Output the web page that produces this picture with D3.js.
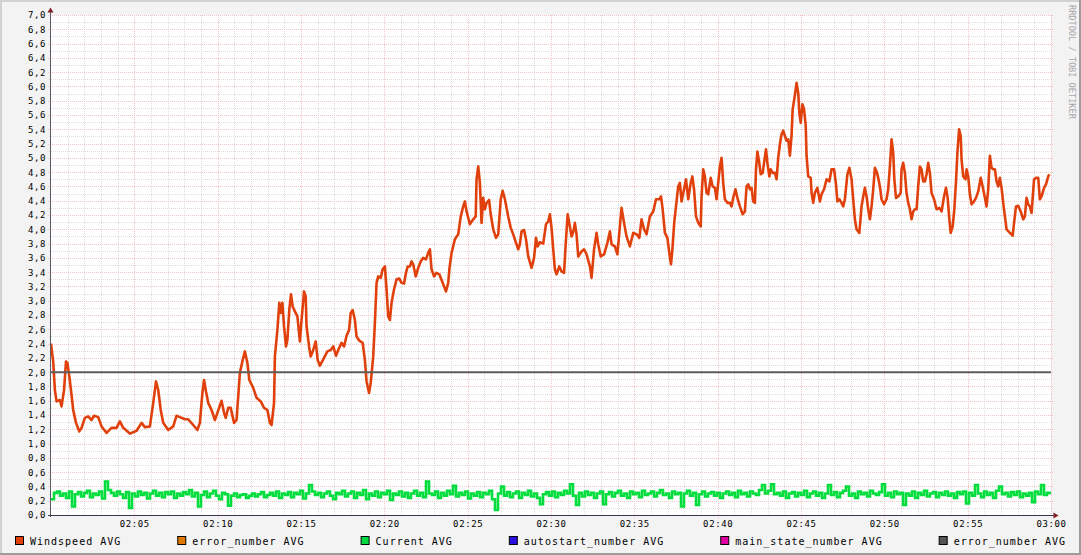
<!DOCTYPE html>
<html><head><meta charset="utf-8">
<script src="https://cdn.jsdelivr.net/npm/d3@7"></script>
<style>html,body{margin:0;padding:0;background:#f3f3f3;}svg{display:block;}</style>
</head><body><svg id="c" width="1081" height="555"></svg>
<script>
// ---------------- DATA ----------------
// Windspeed AVG: [minutes after 02:00, value]
const windspeedAvg = [
[0,2.40],[0.14,2.14],[0.24,1.75],[0.34,1.59],[0.54,1.61],[0.64,1.52],[0.78,1.75],[0.90,2.15],[0.98,2.13],[1.10,1.94],
[1.24,1.68],[1.34,1.47],[1.50,1.29],[1.70,1.17],[1.84,1.22],[2.04,1.36],[2.24,1.38],[2.44,1.33],[2.58,1.39],[2.84,1.37],
[3.04,1.24],[3.34,1.15],[3.64,1.22],[3.94,1.22],[4.14,1.31],[4.34,1.22],[4.74,1.14],[5.14,1.18],[5.44,1.29],[5.64,1.23],
[5.94,1.24],[6.14,1.57],[6.30,1.87],[6.44,1.75],[6.58,1.47],[6.74,1.29],[7.04,1.19],[7.34,1.24],[7.54,1.39],[7.74,1.37],
[8.04,1.34],[8.24,1.34],[8.54,1.26],[8.78,1.19],[8.94,1.29],[9.08,1.71],[9.18,1.89],[9.30,1.73],[9.44,1.57],[9.64,1.47],
[9.84,1.33],[9.98,1.43],[10.24,1.60],[10.38,1.43],[10.48,1.36],[10.64,1.50],[10.78,1.50],[10.98,1.29],[11.14,1.33],[11.34,1.99],
[11.50,2.17],[11.64,2.29],[11.78,2.13],[11.90,1.89],[12.14,1.78],[12.34,1.64],[12.58,1.59],[12.78,1.50],[12.98,1.47],[13.14,1.29],
[13.24,1.26],[13.38,1.57],[13.44,2.22],[13.58,2.59],[13.70,2.97],[13.78,2.83],[13.88,2.97],[13.98,2.64],[14.10,2.36],[14.18,2.45],
[14.30,2.88],[14.40,3.09],[14.50,2.92],[14.64,2.85],[14.78,2.78],[14.94,2.43],[15.04,2.73],[15.18,3.13],[15.28,3.06],[15.34,2.64],
[15.48,2.36],[15.58,2.22],[15.74,2.31],[15.88,2.43],[16.00,2.17],[16.14,2.09],[16.34,2.18],[16.58,2.29],[16.78,2.31],[16.94,2.36],
[17.10,2.23],[17.24,2.31],[17.44,2.41],[17.58,2.36],[17.74,2.51],[17.88,2.59],[17.98,2.83],[18.10,2.87],[18.24,2.73],[18.34,2.50],
[18.50,2.44],[18.70,2.41],[18.84,2.17],[18.94,1.87],[19.08,1.71],[19.18,1.85],[19.34,2.22],[19.44,2.69],[19.54,3.25],[19.64,3.34],
[19.78,3.32],[19.90,3.44],[20.04,3.48],[20.14,3.16],[20.24,2.78],[20.34,2.73],[20.44,2.97],[20.58,3.16],[20.74,3.30],[20.90,3.31],
[21.04,3.25],[21.18,3.24],[21.30,3.39],[21.40,3.48],[21.54,3.48],[21.64,3.55],[21.74,3.51],[21.88,3.34],[22.04,3.46],[22.18,3.55],
[22.34,3.60],[22.50,3.58],[22.64,3.67],[22.74,3.72],[22.84,3.44],[22.98,3.34],[23.14,3.39],[23.30,3.37],[23.54,3.23],[23.70,3.13],
[23.84,3.25],[23.90,3.44],[24.04,3.67],[24.24,3.86],[24.44,3.93],[24.58,4.18],[24.74,4.32],[24.84,4.39],[24.94,4.25],[25.14,4.07],
[25.34,4.14],[25.48,4.18],[25.54,4.70],[25.64,4.88],[25.74,4.65],[25.84,4.09],[25.94,4.44],[26.04,4.28],[26.14,4.37],[26.28,4.41],
[26.38,4.21],[26.54,4.00],[26.70,3.88],[26.84,3.93],[26.98,4.42],[27.10,4.54],[27.24,4.42],[27.44,4.18],[27.58,4.02],[27.74,3.93],
[27.90,3.81],[28.04,3.72],[28.14,3.79],[28.24,3.97],[28.38,3.99],[28.50,3.86],[28.64,3.62],[28.84,3.46],[28.98,3.60],[29.10,3.88],
[29.20,3.76],[29.34,3.82],[29.54,3.80],[29.70,4.07],[29.84,4.11],[29.94,4.21],[30.04,4.02],[30.14,3.72],[30.24,3.44],[30.34,3.37],
[30.50,3.48],[30.64,3.41],[30.78,3.39],[30.90,3.86],[31.00,4.21],[31.14,4.04],[31.24,3.90],[31.34,3.96],[31.44,4.09],[31.54,3.93],
[31.64,3.62],[31.84,3.69],[31.98,3.72],[32.14,3.65],[32.34,3.48],[32.44,3.32],[32.58,3.72],[32.74,3.95],[32.84,3.79],[32.98,3.62],
[33.18,3.65],[33.38,3.81],[33.54,3.97],[33.64,3.79],[33.84,3.76],[33.98,3.65],[34.14,4.04],[34.24,4.30],[34.38,4.09],[34.54,3.90],
[34.74,3.76],[34.94,3.95],[35.14,3.93],[35.30,3.88],[35.44,4.14],[35.58,4.00],[35.74,3.93],[35.94,4.18],[36.14,4.25],[36.30,4.42],
[36.50,4.42],[36.60,4.46],[36.70,4.28],[36.84,3.95],[36.98,3.88],[37.10,3.67],[37.20,3.51],[37.28,3.72],[37.40,4.11],[37.50,4.32],
[37.64,4.60],[37.74,4.65],[37.84,4.39],[37.98,4.56],[38.10,4.70],[38.24,4.42],[38.38,4.65],[38.48,4.74],[38.58,4.56],[38.70,4.18],
[38.84,4.09],[38.98,4.04],[39.04,4.46],[39.14,4.84],[39.24,4.74],[39.34,4.51],[39.44,4.49],[39.58,4.72],[39.70,4.60],[39.84,4.58],
[39.94,4.42],[40.04,4.65],[40.14,4.88],[40.24,5.00],[40.34,4.65],[40.44,4.42],[40.58,4.37],[40.74,4.37],[40.84,4.32],[40.94,4.44],
[41.06,4.56],[41.18,4.44],[41.34,4.32],[41.50,4.21],[41.64,4.25],[41.74,4.60],[41.84,4.63],[41.94,4.56],[42.04,4.58],[42.14,4.39],
[42.24,4.37],[42.30,4.84],[42.38,5.09],[42.48,4.95],[42.58,4.77],[42.70,4.79],[42.78,4.93],[42.90,5.12],[42.98,4.93],[43.10,4.74],
[43.18,4.84],[43.30,4.79],[43.44,4.79],[43.54,4.70],[43.64,5.00],[43.74,5.19],[43.84,5.33],[43.94,5.38],[44.04,5.31],[44.14,5.24],
[44.24,5.26],[44.34,5.03],[44.44,5.31],[44.50,5.68],[44.58,5.80],[44.68,5.96],[44.74,6.05],[44.84,5.91],[44.90,5.63],[44.98,5.49],
[45.08,5.75],[45.18,5.68],[45.28,5.45],[45.34,5.03],[45.44,4.74],[45.58,4.72],[45.64,4.51],[45.74,4.37],[45.84,4.51],[45.98,4.58],
[46.14,4.39],[46.24,4.49],[46.38,4.56],[46.54,4.70],[46.70,4.67],[46.84,4.84],[46.98,4.84],[47.10,4.63],[47.18,4.39],[47.30,4.42],
[47.44,4.37],[47.54,4.32],[47.64,4.42],[47.78,4.77],[47.90,4.86],[48.04,4.70],[48.14,4.42],[48.24,4.14],[48.34,4.00],[48.50,3.95],
[48.64,4.32],[48.74,4.46],[48.84,4.58],[48.94,4.46],[49.04,4.28],[49.14,4.14],[49.24,4.32],[49.34,4.56],[49.44,4.86],[49.54,4.81],
[49.64,4.72],[49.74,4.60],[49.84,4.42],[49.98,4.35],[50.14,4.42],[50.24,4.56],[50.34,4.88],[50.44,5.26],[50.54,5.07],[50.60,4.70],
[50.70,4.44],[50.84,4.46],[50.98,4.51],[51.04,4.84],[51.14,4.93],[51.24,4.79],[51.34,4.51],[51.44,4.37],[51.54,4.28],[51.64,4.14],
[51.74,4.25],[51.84,4.28],[51.94,4.28],[52.04,4.60],[52.14,4.88],[52.24,4.84],[52.34,4.67],[52.44,4.67],[52.54,4.77],[52.64,4.93],
[52.74,4.79],[52.84,4.51],[52.98,4.42],[53.14,4.28],[53.30,4.30],[53.44,4.25],[53.58,4.46],[53.70,4.58],[53.80,4.44],[53.90,4.14],
[53.98,3.95],[54.10,4.04],[54.20,4.28],[54.30,4.67],[54.38,5.07],[54.48,5.40],[54.58,5.31],[54.64,4.98],[54.74,4.74],[54.86,4.70],
[54.94,4.84],[55.04,4.74],[55.14,4.49],[55.24,4.35],[55.38,4.39],[55.50,4.44],[55.64,4.53],[55.78,4.72],[55.90,4.60],[56.04,4.44],
[56.14,4.32],[56.24,4.56],[56.34,5.03],[56.44,4.86],[56.54,4.84],[56.64,4.84],[56.74,4.67],[56.84,4.60],[56.94,4.72],[57.04,4.58],
[57.14,4.37],[57.24,4.18],[57.34,4.00],[57.54,3.95],[57.70,3.91],[57.78,4.09],[57.90,4.32],[58.04,4.33],[58.18,4.25],[58.34,4.14],
[58.44,4.18],[58.54,4.44],[58.64,4.35],[58.74,4.32],[58.84,4.23],[58.98,4.70],[59.10,4.72],[59.24,4.72],[59.34,4.42],[59.44,4.46],
[59.58,4.58],[59.70,4.63],[59.84,4.74],[59.90,4.77]
];

// Current AVG: one value per 10.8 s step, starting 02:00
const currentStepSeconds = 10.8;
const currentAvg = [
0.22,0.31,0.33,0.27,0.30,0.24,0.33,0.12,0.29,0.32,0.26,0.31,0.34,0.25,0.30,0.28,0.33,0.23,0.47,0.35,
0.31,0.27,0.33,0.29,0.24,0.32,0.10,0.30,0.26,0.33,0.28,0.31,0.23,0.30,0.34,0.27,0.31,0.25,0.32,0.29,
0.33,0.24,0.30,0.27,0.32,0.29,0.35,0.26,0.31,0.12,0.28,0.33,0.25,0.30,0.34,0.27,0.22,0.31,0.29,0.13,
0.27,0.30,0.25,0.28,0.29,0.24,0.27,0.30,0.26,0.29,0.32,0.25,0.28,0.31,0.27,0.33,0.24,0.30,0.28,0.32,
0.25,0.31,0.29,0.34,0.23,0.30,0.42,0.33,0.28,0.31,0.25,0.30,0.33,0.27,0.22,0.31,0.29,0.34,0.26,0.30,
0.33,0.24,0.31,0.28,0.35,0.22,0.30,0.27,0.33,0.25,0.31,0.29,0.34,0.21,0.30,0.28,0.33,0.26,0.31,0.24,
0.30,0.34,0.27,0.31,0.25,0.47,0.30,0.28,0.33,0.24,0.31,0.27,0.34,0.29,0.41,0.26,0.31,0.28,0.33,0.23,
0.30,0.27,0.32,0.25,0.31,0.29,0.34,0.22,0.07,0.30,0.40,0.27,0.32,0.25,0.30,0.33,0.24,0.31,0.28,0.34,
0.26,0.30,0.24,0.15,0.29,0.32,0.27,0.33,0.25,0.31,0.28,0.34,0.30,0.43,0.27,0.14,0.31,0.26,0.33,0.28,
0.31,0.24,0.30,0.33,0.15,0.29,0.32,0.26,0.31,0.34,0.27,0.30,0.24,0.33,0.29,0.31,0.25,0.34,0.28,0.30,
0.33,0.26,0.31,0.35,0.28,0.30,0.24,0.33,0.29,0.31,0.12,0.30,0.34,0.27,0.31,0.14,0.29,0.33,0.26,0.30,
0.32,0.27,0.31,0.24,0.30,0.33,0.28,0.31,0.25,0.34,0.29,0.31,0.26,0.33,0.30,0.28,0.35,0.42,0.30,0.34,
0.43,0.29,0.31,0.27,0.33,0.24,0.30,0.32,0.26,0.31,0.28,0.34,0.25,0.30,0.33,0.27,0.31,0.24,0.30,0.42,
0.28,0.32,0.25,0.31,0.34,0.40,0.27,0.30,0.24,0.33,0.29,0.31,0.26,0.34,0.30,0.28,0.32,0.43,0.27,0.31,
0.25,0.33,0.29,0.31,0.14,0.30,0.27,0.33,0.24,0.31,0.28,0.34,0.26,0.30,0.32,0.25,0.31,0.28,0.33,0.27,
0.30,0.24,0.32,0.29,0.33,0.16,0.31,0.27,0.42,0.30,0.25,0.33,0.28,0.31,0.24,0.34,0.40,0.29,0.31,0.26,
0.32,0.28,0.33,0.25,0.30,0.27,0.31,0.18,0.33,0.29,0.42,0.28,0.31
];

const hruleValue = 2.0;

const xTickLabels = ["02:05","02:10","02:15","02:20","02:25","02:30","02:35","02:40","02:45","02:50","02:55","03:00"];
const yTickLabels = ["0,0","0,2","0,4","0,6","0,8","1,0","1,2","1,4","1,6","1,8","2,0","2,2","2,4","2,6","2,8","3,0",
  "3,2","3,4","3,6","3,8","4,0","4,2","4,4","4,6","4,8","5,0","5,2","5,4","5,6","5,8","6,0","6,2","6,4","6,6","6,8","7,0"];

const legendLabels = ["Windspeed AVG","error_number AVG","Current AVG","autostart_number AVG","main_state_number AVG","error_number AVG"];
const legendColors = ["#e0400c","#e07800","#00d840","#2a10e0","#e000a0","#555555"];

const watermark = "RRDTOOL / TOBI OETIKER";

// ---------------- CHART ----------------
const W = 1081, H = 555;
const svg = d3.select("#c");
const mono = "'DejaVu Sans Mono', monospace";
const t0 = new Date(2000,0,1,2,0,0), t1 = new Date(2000,0,1,3,0,0);
const x = d3.scaleTime().domain([t0,t1]).range([51,1051]);
const y = d3.scaleLinear().domain([0,7]).range([515,15]);
const px = v => Math.round(v) + 0.5;

svg.append("rect").attr("width",W).attr("height",H).attr("fill","#f3f3f3");
svg.append("path").attr("d",`M1,${H} V1 H${W}`).attr("fill","none").attr("stroke","#d2d2d2").attr("stroke-width",2);
svg.append("path").attr("d",`M0,${H-1} H${W-1} V0`).attr("fill","none").attr("stroke","#9c9c9c").attr("stroke-width",2);

svg.append("rect").attr("x",51).attr("y",15).attr("width",1000).attr("height",500).attr("fill","#ffffff");

const grid = svg.append("g");
const minorColor = "#dcdcdc", majorColor = "#f4c4c4";
const minutes = d3.timeMinute.range(d3.timeMinute.offset(t0,1), t1);
grid.selectAll(".vmin").data(minutes.filter(d => d.getMinutes() % 5 !== 0)).join("line")
  .attr("x1",d=>px(x(d))).attr("x2",d=>px(x(d))).attr("y1",15).attr("y2",517)
  .attr("stroke",minorColor).attr("stroke-dasharray","1,1");
const minorY = d3.range(1,71).filter(i=>i%2===1).map(i=>i/10);
grid.selectAll(".hmin").data(minorY).join("line")
  .attr("x1",49).attr("x2",1053).attr("y1",d=>px(y(d))).attr("y2",d=>px(y(d)))
  .attr("stroke",minorColor).attr("stroke-dasharray","1,1");
const majorX = d3.timeMinute.every(5).range(d3.timeMinute.offset(t0,5), d3.timeMinute.offset(t1,1));
grid.selectAll(".vmaj").data(majorX).join("line")
  .attr("x1",d=>px(x(d))).attr("x2",d=>px(x(d))).attr("y1",15).attr("y2",518)
  .attr("stroke",majorColor).attr("stroke-dasharray","1,1");
const majorY = d3.range(1,36).map(i=>i/5);
grid.selectAll(".hmaj").data(majorY).join("line")
  .attr("x1",48).attr("x2",1054).attr("y1",d=>px(y(d))).attr("y2",d=>px(y(d)))
  .attr("stroke",majorColor).attr("stroke-dasharray","1,1");

const windLine = d3.line().x(d=>x(d3.timeSecond.offset(t0, Math.round(d[0]*60)))).y(d=>y(d[1]));
svg.append("path").datum(windspeedAvg).attr("d",windLine)
  .attr("fill","none").attr("stroke",legendColors[0]).attr("stroke-width",2.6).attr("stroke-linejoin","round");

const curData = currentAvg.map((v,i)=>[new Date(t0.getTime() + i*currentStepSeconds*1000), v]);
curData.push([t1, currentAvg[currentAvg.length-1]]);
const curLine = d3.line().curve(d3.curveStepAfter).x(d=>x(d[0])).y(d=>y(d[1]));
svg.append("path").datum(curData).attr("d",curLine)
  .attr("fill","none").attr("stroke","#00dd3c").attr("stroke-width",2.6);

svg.append("line").attr("x1",51).attr("x2",1051).attr("y1",y(hruleValue)).attr("y2",y(hruleValue))
  .attr("stroke","#5c5c5c").attr("stroke-width",2);

svg.append("line").attr("x1",50.5).attr("x2",50.5).attr("y1",517).attr("y2",10).attr("stroke","#5a5a66").attr("stroke-width",1);
svg.append("line").attr("x1",48).attr("x2",1056).attr("y1",515.5).attr("y2",515.5).attr("stroke","#3a3550").attr("stroke-width",1);
svg.append("path").attr("d","M47.5,12.5 L50.5,7.5 L53.5,12.5 Z").attr("fill","#7f1f1f");
svg.append("path").attr("d","M1053.5,512.5 L1058.5,515.5 L1053.5,518.5 Z").attr("fill","#7f1f1f");

const xAxis = d3.axisBottom(x).tickValues(majorX).tickFormat((d,i)=>xTickLabels[i]).tickSize(0).tickPadding(6);
const gx = svg.append("g").attr("transform","translate(0,515)").call(xAxis);
gx.select(".domain").remove();
gx.selectAll("text").attr("font-family",mono).attr("font-size","9px").attr("letter-spacing","0.6px").attr("fill","#000");

const yAxis = d3.axisLeft(y).tickValues(d3.range(0,36).map(i=>i/5)).tickFormat((d,i)=>yTickLabels[i]).tickSize(0).tickPadding(5);
const gy = svg.append("g").attr("transform","translate(51,0)").call(yAxis);
gy.select(".domain").remove();
gy.selectAll("text").attr("font-family",mono).attr("font-size","9px").attr("letter-spacing","0.6px").attr("fill","#000");

const lg = svg.append("g");
const items = lg.selectAll("g").data(legendLabels).join("g");
items.append("rect").attr("x",0.5).attr("y",536.5).attr("width",8).attr("height",8)
  .attr("fill",(d,i)=>legendColors[i]).attr("stroke","#000").attr("stroke-width",1);
items.append("text").attr("x",15).attr("y",544.5).text(d=>d)
  .attr("font-family",mono).attr("font-size","10px").attr("letter-spacing","1px").attr("fill","#000");
const widths = [];
items.each(function(){ widths.push(15 + d3.select(this).select("text").node().getComputedTextLength()); });
const left = 15, right = 1066;
const gap = (right - left - d3.sum(widths)) / (widths.length - 1);
let cx = left;
items.attr("transform",(d,i)=>{ const t = `translate(${cx},0)`; cx += widths[i] + gap; return t; });

svg.append("text").attr("transform","translate(1069,5) rotate(90)").text(watermark)
  .attr("font-family",mono).attr("font-size","8.6px").attr("fill","#a8a8a8");
</script>
</body></html>
